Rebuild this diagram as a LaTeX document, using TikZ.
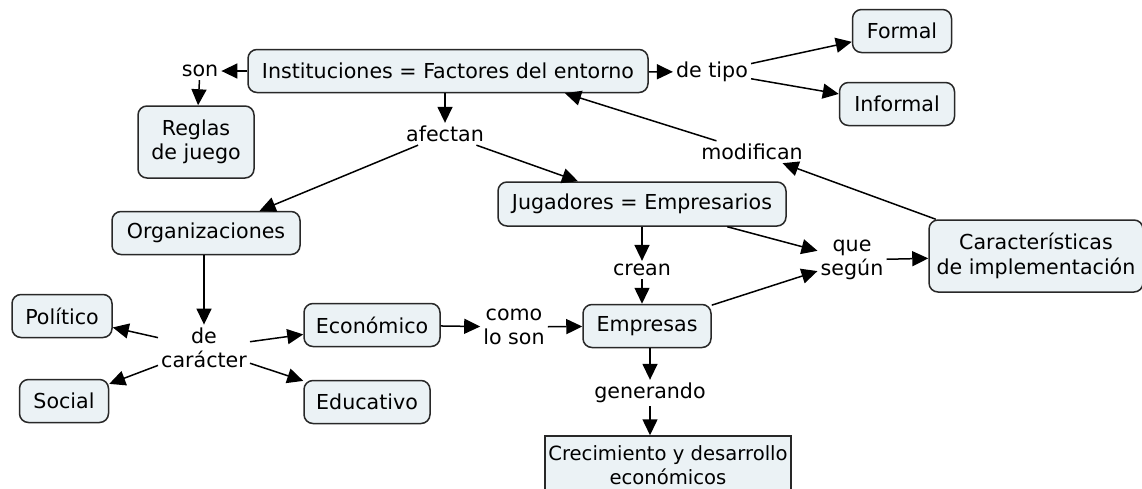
\documentclass[tikz,border=0pt]{standalone}
\usepackage{fontspec}
\setmainfont{DejaVu Sans}
\usetikzlibrary{arrows.meta,calc}
\definecolor{boxfill}{RGB}{235,242,245}
\definecolor{edgecol}{RGB}{40,40,40}
\newcommand\cmapfont{\fontsize{20.6}{24.5}\selectfont}
\newcommand\cmapsmall{\fontsize{19.6}{23.5}\selectfont}
\begin{document}
\begin{tikzpicture}[x=1pt,y=-1pt,
  concept/.style={draw=edgecol, line width=1.5pt, fill=boxfill, rounded corners=9pt, align=center, inner sep=0pt, font=\cmapfont},
  link/.style={align=center, inner sep=3pt, font=\cmapfont},
  arr/.style={-{Triangle[length=16pt,width=15pt]}, line width=1.5pt, draw=black}]
\useasboundingbox (0,0) rectangle (1142,488);
\clip (0,0) rectangle (1142,488);

\node[concept, minimum width=400pt, minimum height=43pt] (inst) at (448,71) {Instituciones = Factores del entorno};
\node[link] (son) at (200,71) {son};
\node[concept, minimum width=116pt, minimum height=72pt] (reglas) at (196,142) {Reglas\\de juego};
\node[link] (tipo) at (712,72) {de tipo};
\node[concept, minimum width=99pt, minimum height=43pt] (formal) at (902,31) {Formal};
\node[concept, minimum width=115pt, minimum height=43pt] (informal) at (897,104) {Informal};
\node[link] (afectan) at (445,134) {afectan};
\node[link] (modif) at (752,152) {modifican};
\node[concept, minimum width=288pt, minimum height=44pt] (jug) at (642,204) {Jugadores = Empresarios};
\node[concept, minimum width=188pt, minimum height=43pt] (org) at (206,233) {Organizaciones};
\node[link] (crean) at (642,270) {crean};
\node[link] (segun) at (852,260) {que\\según};
\node[concept, minimum width=214pt, minimum height=72pt] (carac) at (1036,256) {Características\\de implementación};
\node[concept, minimum width=100pt, minimum height=43pt] (pol) at (62,316) {Político};
\node[link] (caracter) at (204,348) {de\\carácter};
\node[concept, minimum width=136pt, minimum height=43pt] (eco) at (372,325) {Económico};
\node[link] (como) at (514,327) {como\\lo son};
\node[concept, minimum width=128pt, minimum height=43pt] (emp) at (647,326) {Empresas};
\node[concept, minimum width=89pt, minimum height=43pt] (soc) at (64,401) {Social};
\node[concept, minimum width=126pt, minimum height=43pt] (edu) at (367,402) {Educativo};
\node[link] (gen) at (650,393) {generando};
\node[concept, rounded corners=0pt, font=\cmapsmall, minimum width=246pt, minimum height=58pt] (crec) at (668,465) {Crecimiento y desarrollo\\económicos};

\draw[arr] (inst) -- (son);
\draw[arr] (son) -- (reglas);
\draw[arr] (inst) -- (tipo);
\draw[arr] (tipo) -- (formal);
\draw[arr] (tipo) -- (informal);
\draw[arr] (inst.south -| afectan) -- (afectan);
\draw[arr] (afectan) -- (org);
\draw[arr] (afectan) -- (jug);
\draw[arr] (carac) -- (modif);
\draw[arr] (modif) -- ($(inst.south)+(117,0)$);
\draw[arr] (jug) -- (crean);
\draw[arr] (crean) -- (crean |- emp.north);
\draw[arr] (jug) -- (segun);
\draw[arr] (emp) -- (segun);
\draw[arr] (segun) -- (carac);
\draw[arr] (org.south -| caracter) -- (caracter);
\draw[arr] (caracter) -- (pol);
\draw[arr] (caracter) -- (soc);
\draw[arr] (caracter) -- (eco);
\draw[arr] (caracter) -- (edu);
\draw[arr] (eco) -- (como);
\draw[arr] (como) -- (emp);
\draw[arr] (emp.south -| gen) -- (gen);
\draw[arr] (gen) -- (gen |- crec.north);
\end{tikzpicture}
\end{document}
